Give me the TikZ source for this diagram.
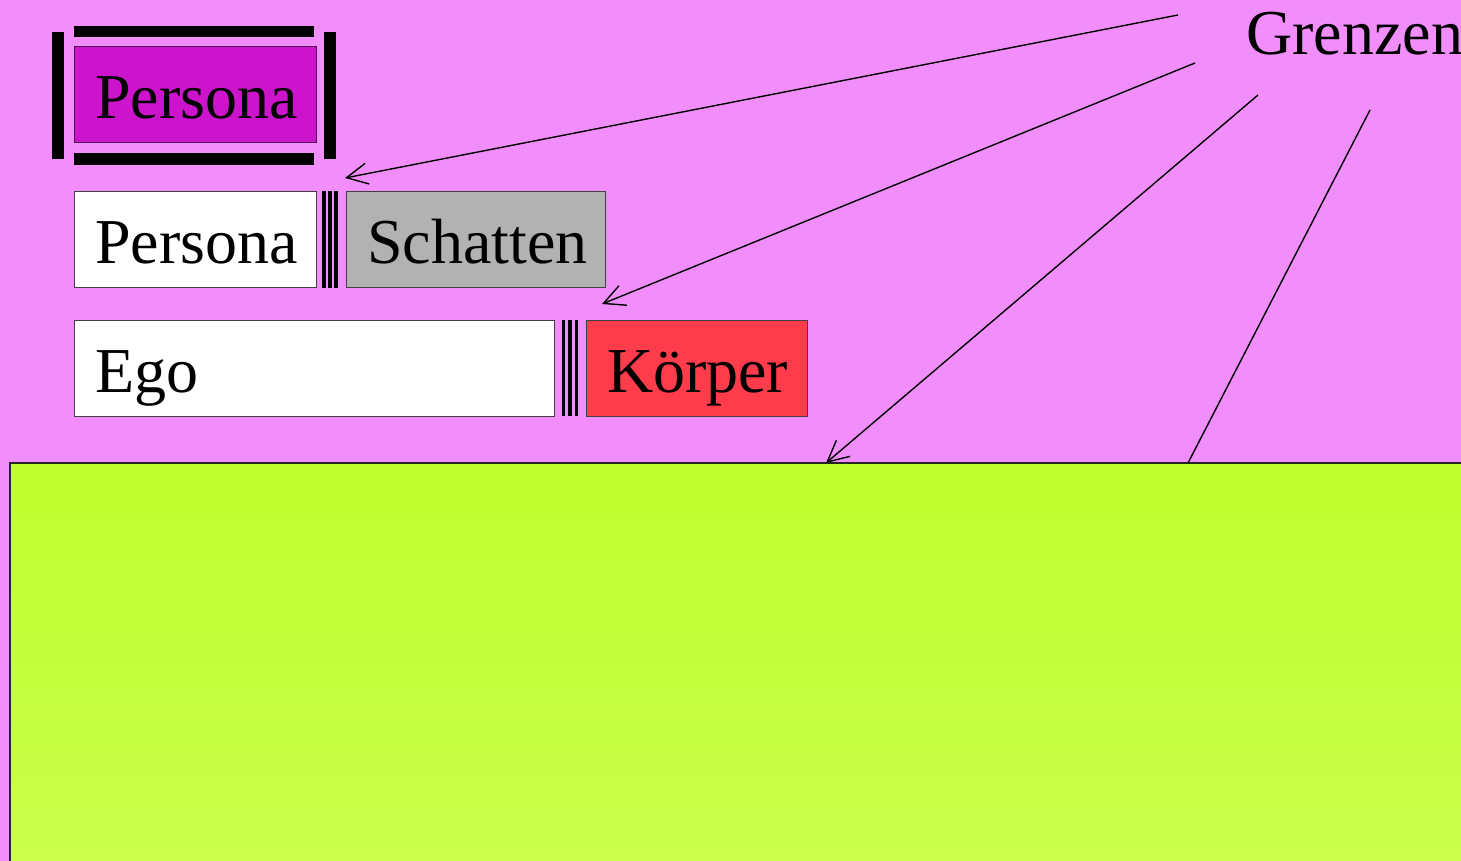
\documentclass[tikz,border=0pt]{standalone}
\usepackage{fontspec}
\setmainfont{Liberation Serif}
\usetikzlibrary{arrows.meta}
\definecolor{bgviolet}{RGB}{242,142,252}
\definecolor{personamag}{RGB}{204,20,204}
\definecolor{shadowgray}{RGB}{178,178,178}
\definecolor{bodyred}{RGB}{255,60,76}
\definecolor{fieldtop}{RGB}{192,255,46}
\definecolor{fieldbottom}{RGB}{203,255,76}
\tikzset{
  label font/.style={font=\fontsize{32}{38}\selectfont},
  layer/.style={label font, draw=black!75, line width=0.5pt, rectangle,
    minimum height=48pt, inner xsep=10.5pt, inner ysep=0pt,
    text height=26pt, text depth=2pt, align=left},
  bar/.style={fill=black},
  pointer/.style={line width=0.7pt, -{Straight Barb[length=10.5pt,width=10.5pt]}},
}
\begin{document}
\begin{tikzpicture}[x=0.5pt,y=-0.5pt]
  % canvas
  \fill[bgviolet] (0,0) rectangle (1461,861);
  \useasboundingbox (0,0) rectangle (1461,861);

  % lower field
  \shade[top color=fieldtop, bottom color=fieldbottom] (10,463) rectangle (1475,875);
  \draw[line width=0.7pt, black!85] (1475,463) -- (10,463) -- (10,875);

  % layers
  \node[layer, fill=personamag, draw=black!60!personamag, text width=100pt] (mask) at (195,95) {Persona};
  \node[layer, fill=white, text width=100pt] (persona) at (195,239.5) {Persona};
  \node[layer, fill=shadowgray, text width=108.5pt] (shadow) at (475.5,239.5) {Schatten};
  \node[layer, fill=white, text width=219pt] (ego) at (314,368) {Ego};
  \node[layer, fill=bodyred, text width=89.5pt] (body) at (696.5,368) {Körper};

  % frame around the mask
  \fill[bar] (74,26) rectangle (314,37);
  \fill[bar] (74,153) rectangle (314,165);
  \fill[bar] (52,32) rectangle (64,159);
  \fill[bar] (324,32) rectangle (336,159);

  % separators between neighbouring layers
  \fill[bar] (322,191) rectangle (325.5,288);
  \fill[bar] (327.5,191) rectangle (331.5,288);
  \fill[bar] (333.5,191) rectangle (337.5,288);
  \fill[bar] (562,320) rectangle (565,416);
  \fill[bar] (567.5,320) rectangle (572,416);
  \fill[bar] (574.5,320) rectangle (578,416);

  % caption and its pointers
  \node[label font, anchor=base west, inner sep=0pt] (limits) at (1246,55) {Grenzen};
  \coordinate (s1) at (1178,15);
  \coordinate (s2) at (1195,63);
  \coordinate (s3) at (1258,95);
  \coordinate (s4) at (1370,110);
  \coordinate (e1) at (345,178);
  \coordinate (e2) at (602,304);
  \coordinate (e3) at (826,463);
  \coordinate (e4) at (1188,463);
  \draw[pointer] (s1) -- (e1);
  \draw[pointer] (s2) -- (e2);
  \draw[pointer] (s3) -- (e3);
  \draw[line width=0.7pt] (s4) -- (e4);
\end{tikzpicture}
\end{document}
